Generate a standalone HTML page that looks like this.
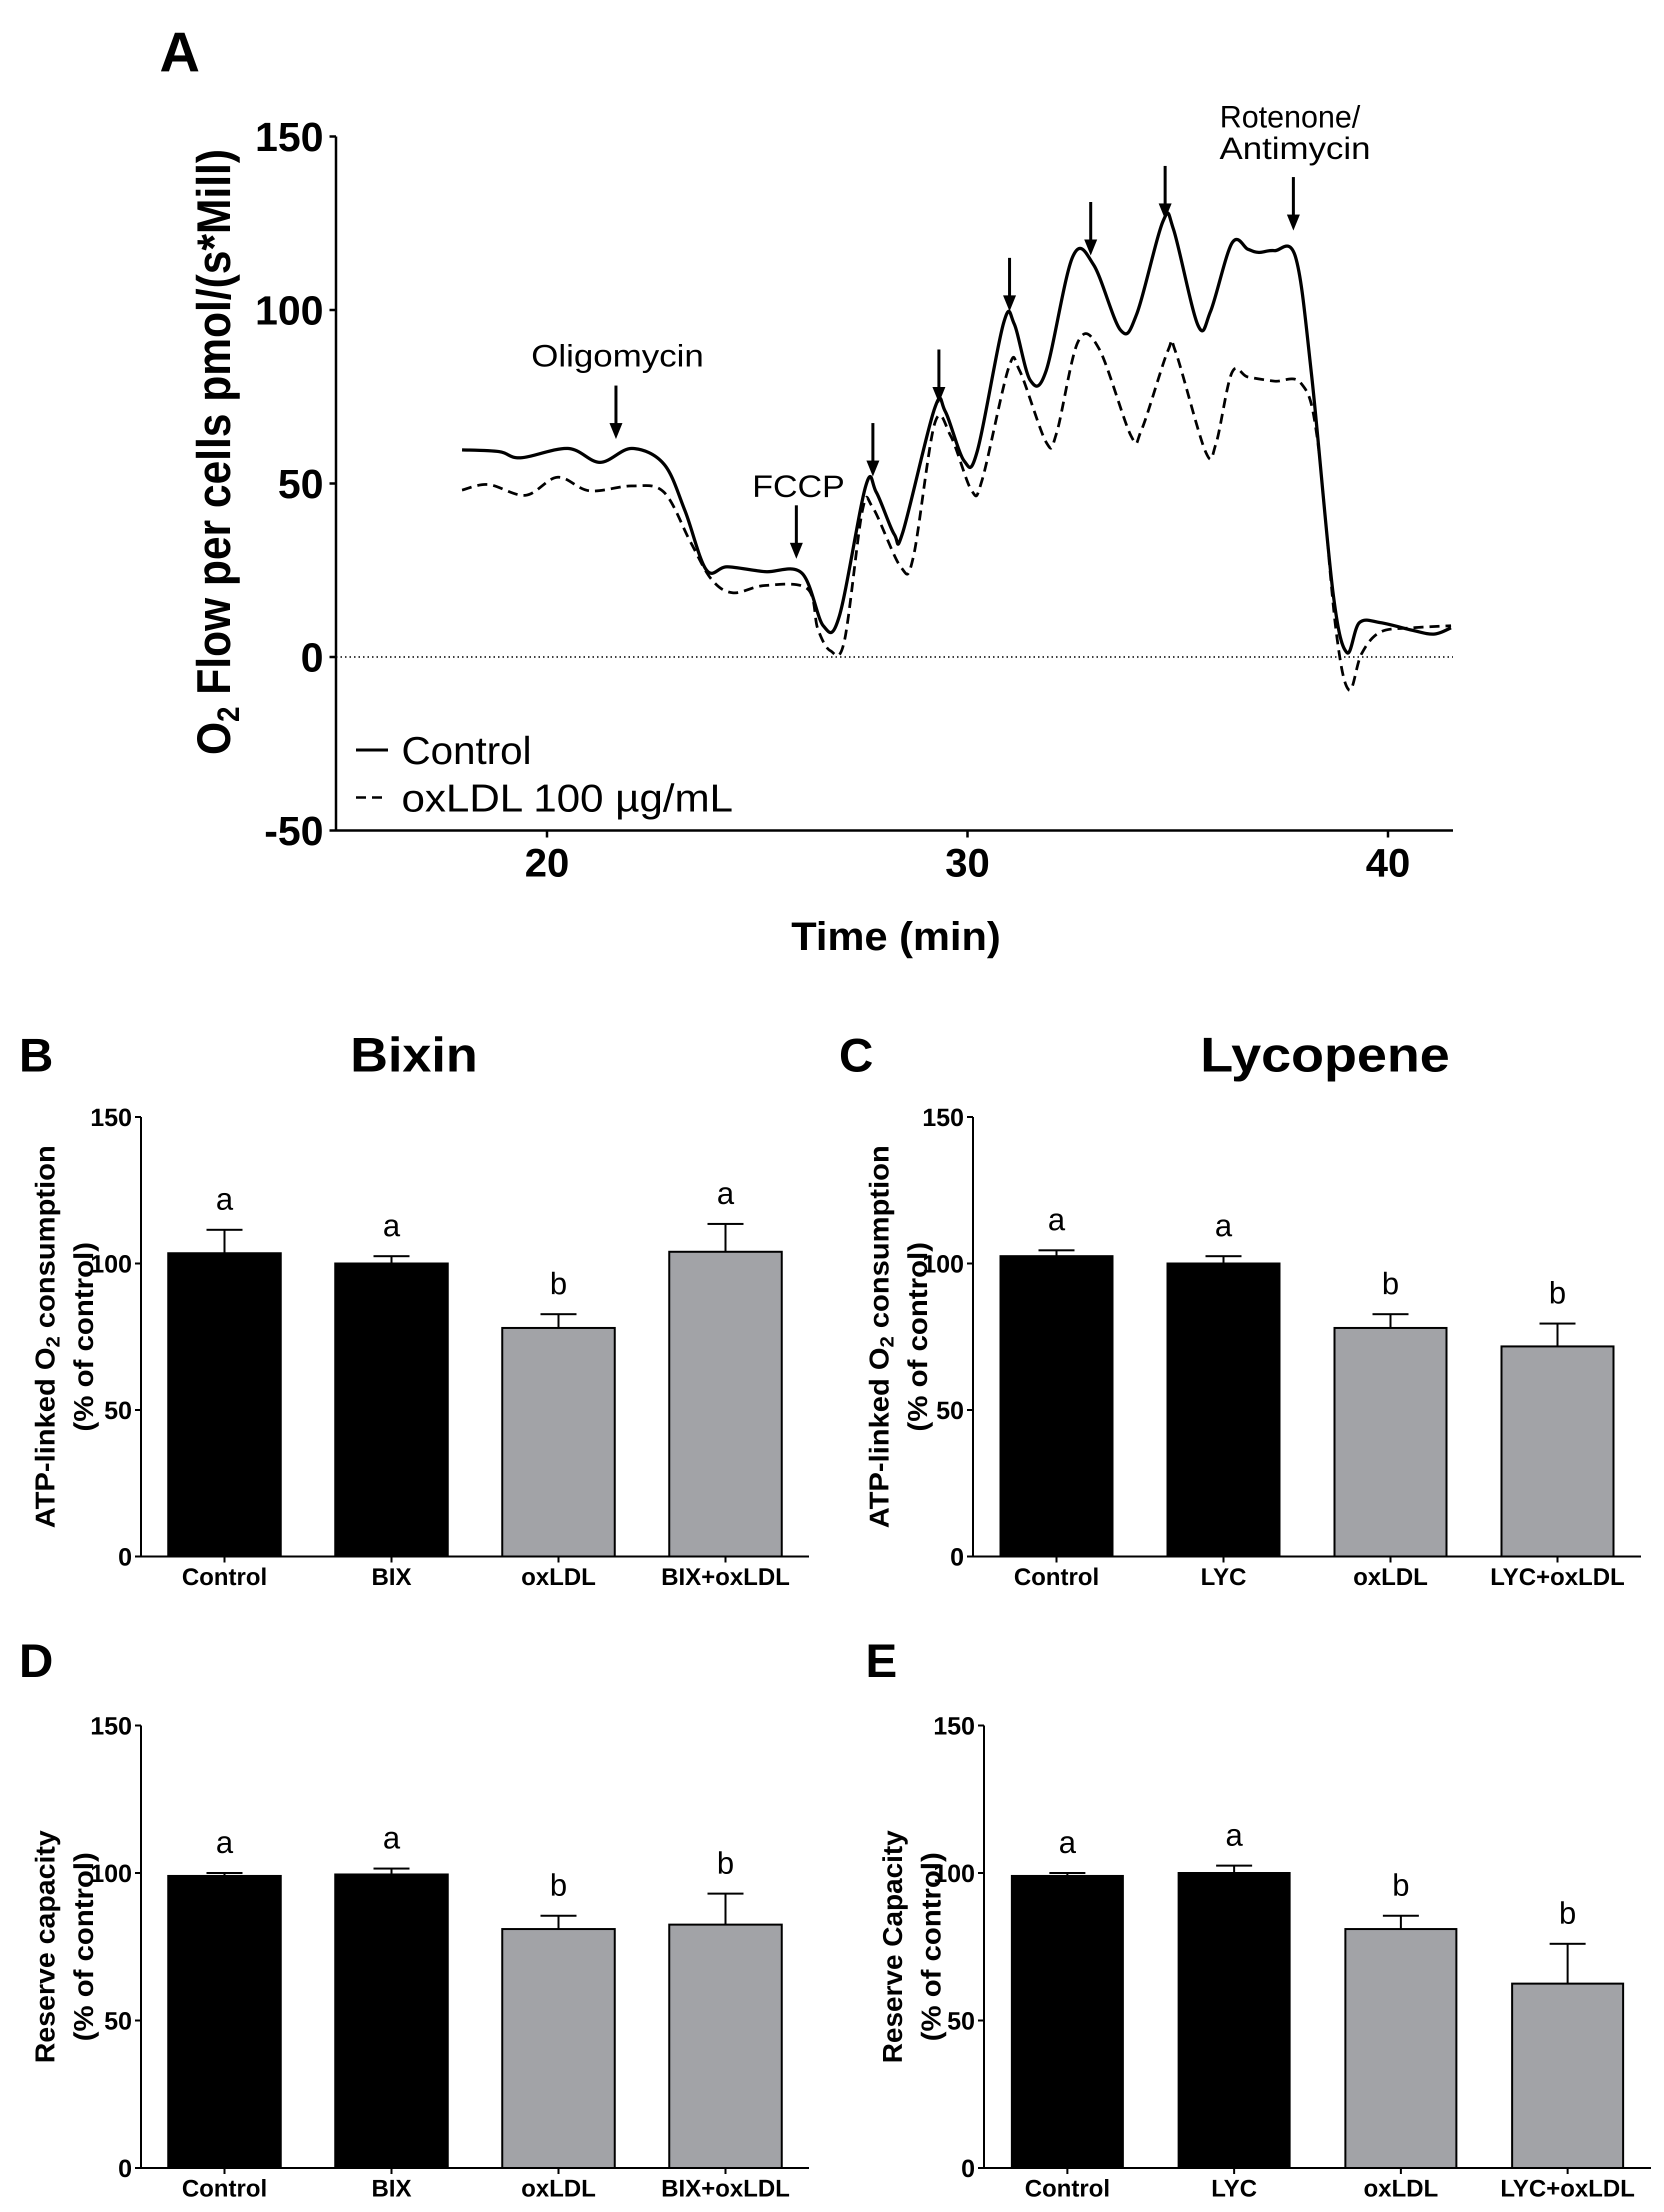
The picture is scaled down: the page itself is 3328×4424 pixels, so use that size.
<!DOCTYPE html>
<html><head><meta charset="utf-8"><style>
html,body{margin:0;padding:0;background:#fff}
svg{display:block}
text{font-family:"Liberation Sans",Arial,sans-serif;fill:#000}
</style></head><body>
<svg id="fig" xmlns="http://www.w3.org/2000/svg" width="3328" height="4424" viewBox="0 0 3328 4424"></svg>
<script>
// ---------- Panel A data ----------
const ctrlTime = [17.98,18.86,19.37,20.5,21.26,22.02,22.78,23.28,23.79,24.29,25.18,26.06,26.57,26.95,27.58,27.83,28.26,28.46,29.22,29.47,29.92,30.23,30.86,31.11,31.49,31.87,32.5,33.0,33.64,34.02,34.65,34.9,35.48,35.78,36.29,36.67,36.92,37.3,37.8,38.18,38.69,39.02,39.32,39.82,40.58,41.09,41.5];
const ctrlFlow = [59.7,59.2,57.4,60.1,56.1,60.1,55.6,42.2,25.1,26.0,24.6,24.2,9.0,11.7,49.3,47.5,35.3,35.9,71.7,70.8,56.5,59.2,96.3,96.0,79.8,82.5,115.3,113.0,94.2,98.7,125.6,123.2,95.6,99.6,119.3,117.5,116.6,117.1,115.3,81.6,18.8,1.3,9.9,9.9,7.7,6.6,8.4];
const oxTime = [17.98,18.61,19.49,20.25,21.01,22.02,22.78,23.41,23.91,24.42,25.18,26.19,26.44,26.74,27.07,27.5,27.75,28.41,28.71,29.22,29.6,30.1,30.35,30.98,31.24,31.87,32.12,32.63,33.13,33.89,34.14,34.77,34.95,35.66,35.91,36.29,36.67,37.3,37.93,38.31,38.76,39.07,39.37,39.82,40.58,41.5];
const oxFlow = [48.1,49.7,46.6,51.8,47.9,49.3,47.5,33.2,22.4,18.5,20.6,19.7,8.1,1.8,4.5,42.2,43.0,26.0,28.7,67.3,63.7,47.9,51.1,83.4,82.5,61.9,64.6,90.9,88.8,63.7,65.5,88.4,87.9,59.2,61.5,82.0,80.7,79.5,78.9,63.7,8.1,-9.5,0.9,7.2,8.4,9.0];
const arrowTime = [21.64,25.93,27.75,29.32,31.0,32.93,34.7,37.75];
const arrowTip = [62.8,28.3,52.0,73.2,99.6,115.7,126.1,122.9];
const aYTicks = [150,100,50,0,-50];
const aXTicks = [20,30,40];

// ---------- Bar data ----------
const bCats = ["Control","BIX","oxLDL","BIX+oxLDL"];
const bVals = [103.5,100,78,104];
const bErr = [111.5,102.5,82.7,113.5];
const bLetters = ["a","a","b","a"];
const cCats = ["Control","LYC","oxLDL","LYC+oxLDL"];
const cVals = [102.5,100,78,71.7];
const cErr = [104.5,102.5,82.7,79.5];
const cLetters = ["a","a","b","b"];
const dCats = ["Control","BIX","oxLDL","BIX+oxLDL"];
const dVals = [99,99.5,81,82.5];
const dErr = [100,101.5,85.5,93];
const dLetters = ["a","a","b","b"];
const eCats = ["Control","LYC","oxLDL","LYC+oxLDL"];
const eVals = [99,100,81,62.5];
const eErr = [100,102.5,85.5,76];
const eLetters = ["a","a","b","b"];
const barYTicks = [0,50,100,150];

const NS="http://www.w3.org/2000/svg";
const svg=document.getElementById('fig');
function mk(tag,attrs,parent,txt){const e=document.createElementNS(NS,tag);for(const k in attrs)e.setAttribute(k,attrs[k]);if(txt!==undefined)e.textContent=txt;(parent||svg).appendChild(e);return e;}

// ---------- Panel A ----------
const gA=mk('g',{});


const ax=t=>1094+(t-20)*84.1;
const ay=v=>1314-v*6.94;
const AX0=672, AX1=2906;
let l=mk('line',{x1:AX0,y1:ay(150),x2:AX0,y2:ay(-50),stroke:'#000','stroke-width':5},gA);

l=mk('line',{x1:AX0-2,y1:ay(-50),x2:AX1,y2:ay(-50),stroke:'#000','stroke-width':5},gA);

aYTicks.forEach(v=>{
  mk('line',{x1:AX0-13,y1:ay(v),x2:AX0,y2:ay(v),stroke:'#000','stroke-width':5},gA);
  const t=mk('text',{x:647,y:ay(v)+29,'text-anchor':'end','font-size':82,'font-weight':'bold'},gA,String(v));
  
});
aXTicks.forEach(v=>{
  mk('line',{x1:ax(v),y1:ay(-50),x2:ax(v),y2:ay(-50)+14,stroke:'#000','stroke-width':5},gA);
  const t=mk('text',{x:ax(v),y:1753,'text-anchor':'middle','font-size':80,'font-weight':'bold'},gA,String(v));
  
});
l=mk('line',{x1:AX0,y1:ay(0),x2:AX1,y2:ay(0),stroke:'#000','stroke-width':3,'stroke-dasharray':'3 6'},gA);

function pathOf(ts,vs){
  const P=ts.map((t,i)=>[ax(t),ay(vs[i])]);
  let d='M'+P[0][0].toFixed(1)+','+P[0][1].toFixed(1);
  for(let i=0;i<P.length-1;i++){
    const p0=P[Math.max(0,i-1)],p1=P[i],p2=P[i+1],p3=P[Math.min(P.length-1,i+2)];
    const c1=[p1[0]+(p2[0]-p0[0])/6,p1[1]+(p2[1]-p0[1])/6];
    const c2=[p2[0]-(p3[0]-p1[0])/6,p2[1]-(p3[1]-p1[1])/6];
    d+=` C${c1[0].toFixed(1)},${c1[1].toFixed(1)} ${c2[0].toFixed(1)},${c2[1].toFixed(1)} ${p2[0].toFixed(1)},${p2[1].toFixed(1)}`;
  }
  return d;
}
let p=mk('path',{d:pathOf(oxTime,oxFlow),fill:'none',stroke:'#000','stroke-width':5.5,'stroke-dasharray':'20 12','stroke-linejoin':'round'},gA);

p=mk('path',{d:pathOf(ctrlTime,ctrlFlow),fill:'none',stroke:'#000','stroke-width':6.5,'stroke-linejoin':'round'},gA);

arrowTime.forEach((t,i)=>{
  const x=ax(t), yb=ay(arrowTip[i]);
  const g=mk('g',{},gA);
  
  mk('line',{x1:x,y1:yb-107,x2:x,y2:yb-25,stroke:'#000','stroke-width':6},g);
  mk('polygon',{points:`${x-13},${yb-32} ${x+13},${yb-32} ${x},${yb}`,fill:'#000'},g);
});
let t;
t=mk('text',{x:1235,y:733,'text-anchor':'middle','font-size':62,textLength:345,lengthAdjust:'spacingAndGlyphs'},gA,'Oligomycin');

t=mk('text',{x:1597,y:994,'text-anchor':'middle','font-size':62,textLength:185,lengthAdjust:'spacingAndGlyphs'},gA,'FCCP');

t=mk('text',{x:2580,y:255,'text-anchor':'middle','font-size':62,textLength:281,lengthAdjust:'spacingAndGlyphs'},gA,'Rotenone/');

t=mk('text',{x:2590,y:318,'text-anchor':'middle','font-size':62,textLength:302,lengthAdjust:'spacingAndGlyphs'},gA,'Antimycin');

// legend
const lg=mk('g',{},gA);

mk('line',{x1:712,y1:1500,x2:776,y2:1500,stroke:'#000','stroke-width':6},lg);
t=mk('text',{x:803,y:1528,'font-size':78,textLength:260,lengthAdjust:'spacingAndGlyphs'},lg,'Control');

mk('line',{x1:712,y1:1595,x2:776,y2:1595,stroke:'#000','stroke-width':5,'stroke-dasharray':'20 12'},lg);
t=mk('text',{x:803,y:1623,'font-size':78,textLength:663,lengthAdjust:'spacingAndGlyphs'},lg,'oxLDL 100 \u00b5g/mL');

// axis titles
t=mk('text',{x:1792,y:1900,'text-anchor':'middle','font-size':80,'font-weight':'bold',textLength:419,lengthAdjust:'spacingAndGlyphs'},gA,'Time (min)');

t=mk('text',{x:0,y:0,transform:'translate(460,904) rotate(-90)','text-anchor':'middle','font-size':95,'font-weight':'bold',textLength:1212,lengthAdjust:'spacingAndGlyphs'},gA);

mk('tspan',{},t,'O');mk('tspan',{'font-size':62,dy:18},t,'2');mk('tspan',{dy:-18},t,' Flow per cells pmol/(s*Mill)');
t=mk('text',{x:319,y:143,'font-size':112,'font-weight':'bold'},gA,'A');


// ---------- Bar panels ----------
function barPanel(o){
  const g=mk('g',{});
  
  
  const per=o.per50/50;
  const y=v=>o.y0-v*per;
  const slot=(o.x1-o.x0)/o.cats.length;
  mk('line',{x1:o.x0,y1:y(150),x2:o.x0,y2:o.y0,stroke:'#000','stroke-width':4},g);
  mk('line',{x1:o.x0-12,y1:o.y0,x2:o.x1,y2:o.y0,stroke:'#000','stroke-width':4},g);
  barYTicks.forEach(v=>{
    mk('line',{x1:o.x0-12,y1:y(v),x2:o.x0,y2:y(v),stroke:'#000','stroke-width':4},g);
    const tt=mk('text',{x:o.x0-18,y:y(v)+18,'text-anchor':'end','font-size':50,'font-weight':'bold'},g,String(v));
    
  });
  o.cats.forEach((c,i)=>{
    const cx=o.x0+slot*(i+0.5);
    mk('line',{x1:cx,y1:o.y0,x2:cx,y2:o.y0+12,stroke:'#000','stroke-width':4},g);
    const fill=i<2?'#000':'#a2a3a7';
    const r=mk('rect',{x:cx-o.bw/2,y:y(o.vals[i]),width:o.bw,height:o.y0-y(o.vals[i]),fill:fill,stroke:'#000','stroke-width':4},g);
    
    
    const eb=mk('path',{d:`M${cx},${y(o.vals[i])} V${y(o.err[i])} M${cx-36},${y(o.err[i])} H${cx+36}`,stroke:'#000','stroke-width':4,fill:'none'},g);
    
    const lt=mk('text',{x:cx,y:y(o.err[i])-40,'text-anchor':'middle','font-size':62},g,o.letters[i]);
    
    const ct=mk('text',{x:cx,y:o.y0+57,'text-anchor':'middle','font-size':48,'font-weight':'bold'},g,c);
    
  });
  const cy=(y(150)+o.y0)/2+o.tdy;
  let t1=mk('text',{x:0,y:0,transform:`translate(${o.tx1},${cy}) rotate(-90)`,'text-anchor':'middle','font-size':55,'font-weight':'bold',textLength:o.tl1,lengthAdjust:'spacingAndGlyphs'},g);
  
  o.title1(t1);
  let t2=mk('text',{x:0,y:0,transform:`translate(${o.tx1+77},${cy}) rotate(-90)`,'text-anchor':'middle','font-size':55,'font-weight':'bold',textLength:o.tl2,lengthAdjust:'spacingAndGlyphs'},g,'(% of control)');
  
  const pl=mk('text',{x:o.lx,y:o.ly,'font-size':95,'font-weight':'bold'},g,o.letter);
  
}
const atpTitle=t=>{mk('tspan',{},t,'ATP-linked O');mk('tspan',{'font-size':38,dy:10},t,'2');mk('tspan',{dy:-10},t,' consumption');};
barPanel({name:'panel-b-bixin-atp',cats:bCats,vals:bVals,err:bErr,letters:bLetters,x0:282,x1:1618,y0:3113,per50:293,bw:225,tx1:109,tl1:766,tl2:379,tdy:0,title1:atpTitle,letter:'B',lx:38,ly:2143});
barPanel({name:'panel-c-lycopene-atp',cats:cCats,vals:cVals,err:cErr,letters:cLetters,x0:1946,x1:3282,y0:3113,per50:293,bw:224,tx1:1777,tl1:766,tl2:379,tdy:0,title1:atpTitle,letter:'C',lx:1678,ly:2143});
barPanel({name:'panel-d-bixin-reserve',cats:dCats,vals:dVals,err:dErr,letters:dLetters,x0:282,x1:1618,y0:4336,per50:295,bw:225,tx1:109,tl1:466,tl2:378,tdy:0,title1:t=>{t.textContent='Reserve capacity';},letter:'D',lx:38,ly:3354});
barPanel({name:'panel-e-lycopene-reserve',cats:eCats,vals:eVals,err:eErr,letters:eLetters,x0:1968,x1:3302,y0:4336,per50:295,bw:222,tx1:1804,tl1:466,tl2:378,tdy:0,title1:t=>{t.textContent='Reserve Capacity';},letter:'E',lx:1731,ly:3354});
t=mk('text',{x:828,y:2143,'text-anchor':'middle','font-size':97,'font-weight':'bold',textLength:255,lengthAdjust:'spacingAndGlyphs'},svg,'Bixin');

t=mk('text',{x:2650,y:2143,'text-anchor':'middle','font-size':97,'font-weight':'bold',textLength:499,lengthAdjust:'spacingAndGlyphs'},svg,'Lycopene');

</script>
</body></html>
